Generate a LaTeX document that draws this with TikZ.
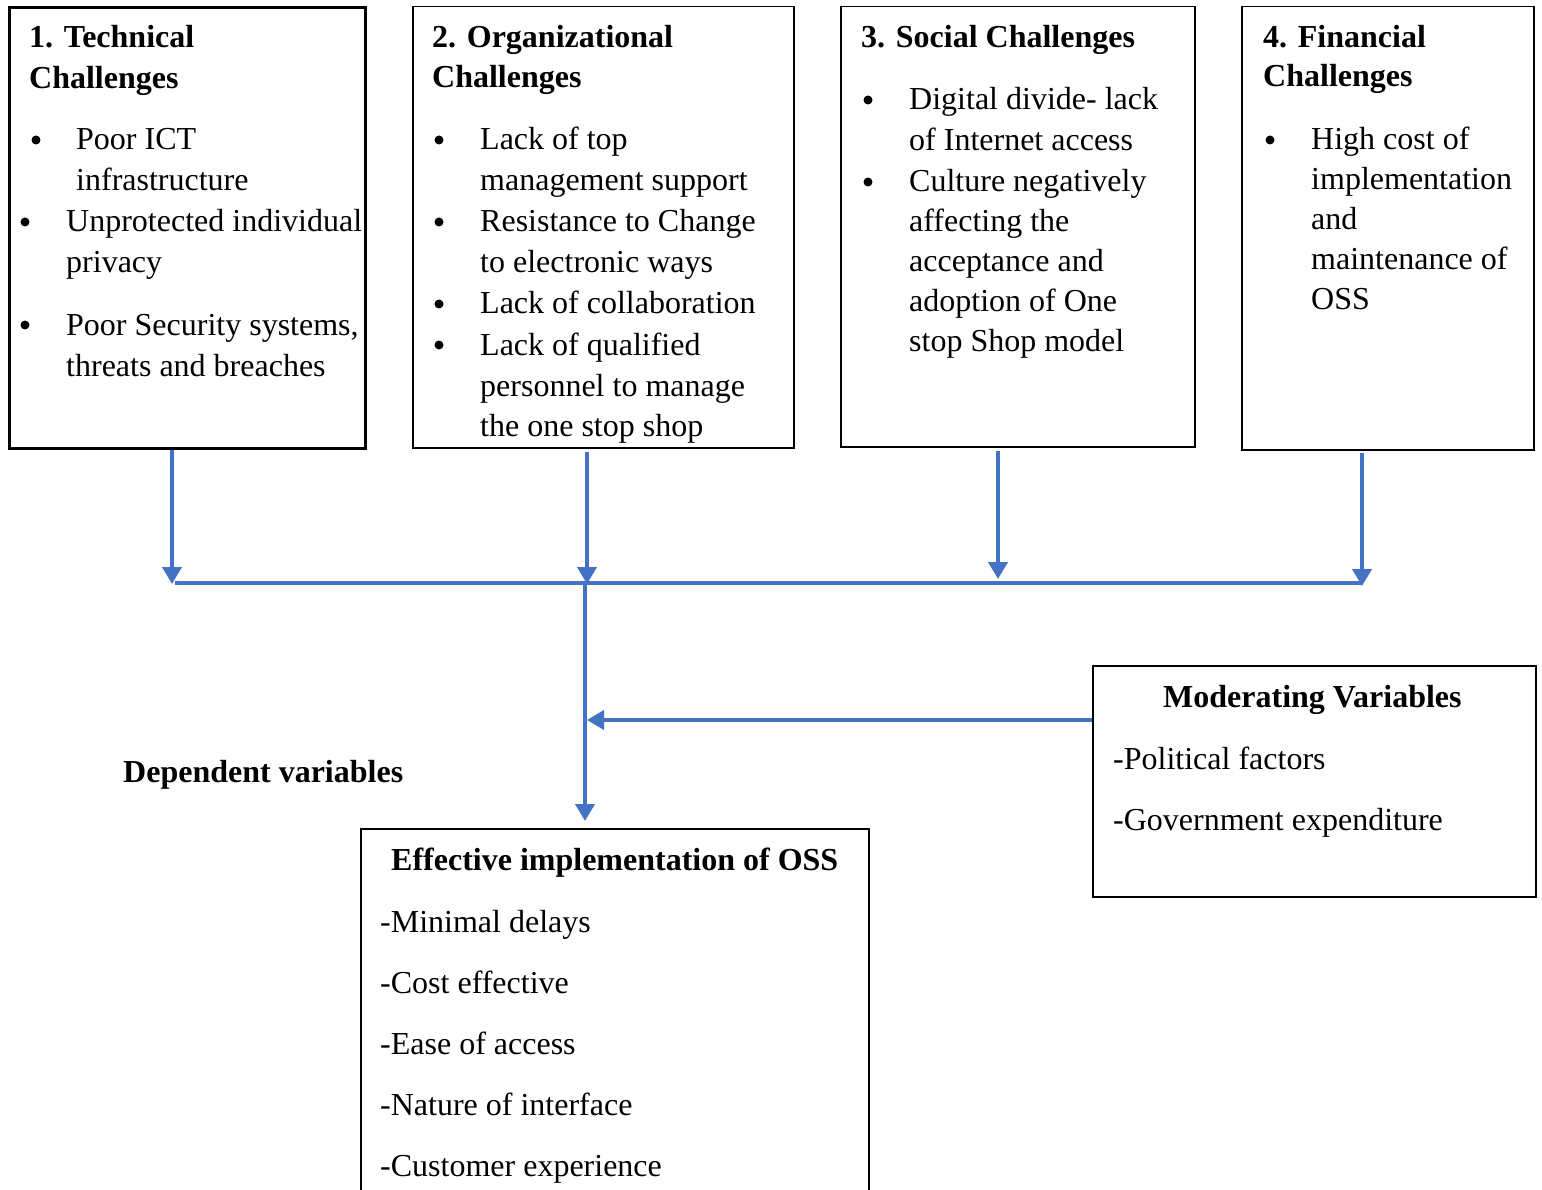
\documentclass[tikz,border=0pt]{standalone}
\usepackage{fontspec}
\setmainfont{Liberation Serif}
\usetikzlibrary{arrows.meta}
\definecolor{linkblue}{HTML}{4472C4}
\begin{document}
\begin{tikzpicture}[x=1pt,y=-1pt,
  txt/.style={anchor=base west, inner sep=0pt, yshift=-2pt, font=\fontsize{32}{41}\selectfont},
  hd/.style={anchor=base west, inner sep=0pt, yshift=-2pt, font=\fontsize{32}{41}\selectfont\bfseries},
  bul/.style={circle, fill=black, inner sep=0pt, minimum size=9pt},
  frame/.style={draw=black, line width=1.5pt, anchor=north west, inner sep=0pt},
  link/.style={draw=linkblue, line width=4pt},
  arr/.style={link, -{Triangle[width=19pt,length=17pt]}}]
\fill[white] (0,0) rectangle (1542,1190);
\useasboundingbox (0,0) rectangle (1542,1190);

% boxes
\node[frame, line width=3pt, minimum width=356pt, minimum height=441pt] (b1) at (8,6) {};
\node[frame, minimum width=381pt, minimum height=441pt] (b2) at (412,6) {};
\node[frame, minimum width=354pt, minimum height=440pt] (b3) at (840,6) {};
\node[frame, minimum width=292pt, minimum height=443pt] (b4) at (1241,6) {};
\node[frame, minimum width=443pt, minimum height=231pt] (mod) at (1092,665) {};
\node[frame, minimum width=508pt, minimum height=420pt] (eff) at (360,828) {};

% box 1
\node[hd] (t1h1) at (29,46) {1. Technical};
\node[hd] (t1h2) at (29,87) {Challenges};
\node[bul] (t1b1) at (36,140) {};
\node[txt] (t1a) at (76,148) {Poor ICT};
\node[txt] (t1b) at (76,189) {infrastructure};
\node[bul] (t1b2) at (25,222) {};
\node[txt] (t1c) at (66,230) {Unprotected individual};
\node[txt] (t1d) at (66,271) {privacy};
\node[bul] (t1b3) at (25,325) {};
\node[txt] (t1e) at (66,333) {Poor Security systems,};
\node[txt] (t1f) at (66,374) {threats and breaches};

% box 2
\node[hd] (t2h1) at (432,46) {2. Organizational};
\node[hd] (t2h2) at (432,86) {Challenges};
\node[bul] (t2b1) at (439,140) {};
\node[txt] (t2a) at (480,148) {Lack of top};
\node[txt] (t2b) at (480,189) {management support};
\node[bul] (t2b2) at (439,222) {};
\node[txt] (t2c) at (480,230) {Resistance to Change};
\node[txt] (t2d) at (480,271) {to electronic ways};
\node[bul] (t2b3) at (439,304) {};
\node[txt] (t2e) at (480,312) {Lack of collaboration};
\node[bul] (t2b4) at (439,345) {};
\node[txt] (t2f) at (480,353) {Lack of qualified};
\node[txt] (t2g) at (480,394) {personnel to manage};
\node[txt] (t2h) at (480,434) {the one stop shop};

% box 3
\node[hd] (t3h1) at (861,46) {3. Social Challenges};
\node[bul] (t3b1) at (868,100) {};
\node[txt] (t3a) at (909,108) {Digital divide- lack};
\node[txt] (t3b) at (909,149) {of Internet access};
\node[bul] (t3b2) at (868,182) {};
\node[txt] (t3c) at (909,190) {Culture negatively};
\node[txt] (t3d) at (909,230) {affecting the};
\node[txt] (t3e) at (909,270) {acceptance and};
\node[txt] (t3f) at (909,310) {adoption of One};
\node[txt] (t3g) at (909,350) {stop Shop model};

% box 4
\node[hd] (t4h1) at (1263,46) {4. Financial};
\node[hd] (t4h2) at (1263,85) {Challenges};
\node[bul] (t4b1) at (1270,140) {};
\node[txt] (t4a) at (1311,148) {High cost of};
\node[txt] (t4b) at (1311,188) {implementation};
\node[txt] (t4c) at (1311,228) {and};
\node[txt] (t4d) at (1311,268) {maintenance of};
\node[txt] (t4e) at (1311,308) {OSS};

% moderating
\node[hd] (mh) at (1163,705) {Moderating Variables};
\node[txt] (ma) at (1113,767) {-Political factors};
\node[txt] (mb) at (1113,828) {-Government expenditure};

% dependent
\node[hd] (dep) at (123,780) {Dependent variables};

% effective
\node[hd] (eh) at (391,868) {Effective implementation of OSS};
\node[txt] (ea) at (380,930) {-Minimal delays};
\node[txt] (eb) at (380,991) {-Cost effective};
\node[txt] (ec) at (380,1052) {-Ease of access};
\node[txt] (ed) at (380,1113) {-Nature of interface};
\node[txt] (ee) at (380,1174) {-Customer experience};

% connectors
\coordinate (j1) at (172,584);
\coordinate (j2) at (587,584);
\coordinate (j3) at (998,579);
\coordinate (j4) at (1362,586);
\coordinate (hl) at (175,583);
\coordinate (hr) at (1362,583);
\coordinate (vt) at (585,583);
\coordinate (vb) at (585,821);
\coordinate (mj) at (587,720);

\draw[arr] (b1.south -| j1) -- (j1);
\draw[arr] ([yshift=-3pt]b2.south -| j2) -- (j2);
\draw[arr] ([yshift=-3pt]b3.south -| j3) -- (j3);
\draw[arr] ([yshift=-2pt]b4.south -| j4) -- (j4);
\draw[link] (hl) -- (hr);
\draw[arr] (vt) -- (vb);
\draw[arr] (mod.west |- mj) -- (mj);
\end{tikzpicture}
\end{document}
